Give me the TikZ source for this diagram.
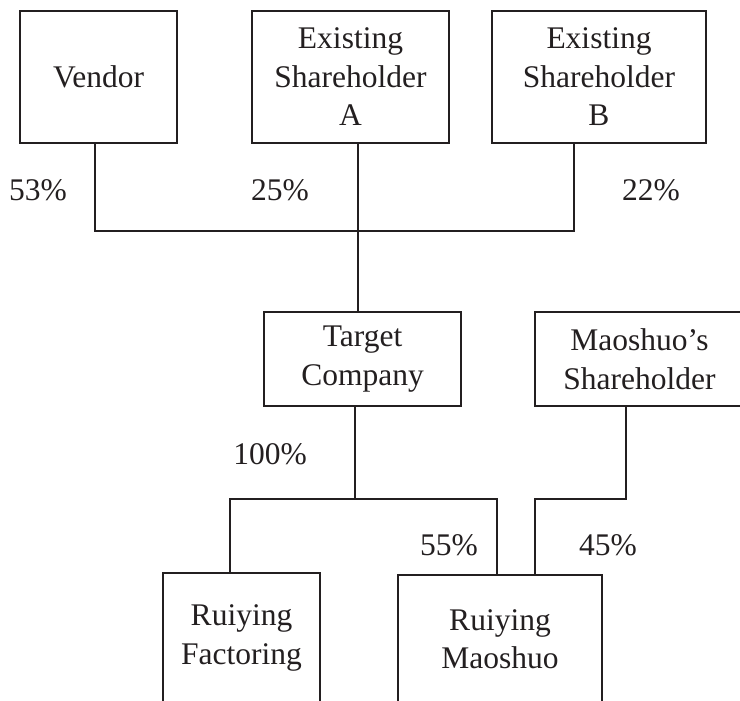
\documentclass[tikz,border=0pt]{standalone}
\usepackage{fontspec}
\setmainfont{Liberation Serif}
\definecolor{ink}{RGB}{35,31,32}
\begin{document}
\begin{tikzpicture}[x=1pt,y=-1pt,
  box/.style={draw=ink,line width=1.2pt,rectangle,inner sep=0pt,align=center,text=ink,
    font=\fontsize{31.5}{38.5}\selectfont},
  pct/.style={inner sep=0pt,text=ink,font=\fontsize{31.5}{38.5}\selectfont},
  conn/.style={draw=ink,line width=1.2pt}]
\useasboundingbox (0,0) rectangle (740,701);
\clip (0,0) rectangle (740,701);
% top row
\node[box,minimum width=157pt,minimum height=132pt] (vendor) at (98.5,77) {Vendor};
\node[box,minimum width=197pt,minimum height=132pt] (esa) at (350.5,77) {Existing\\Shareholder\\A};
\node[box,minimum width=214pt,minimum height=132pt] (esb) at (599,77) {Existing\\Shareholder\\B};
% middle row
\node[box,minimum width=197pt,minimum height=94pt] (target) at (362.5,359) {Target\\Company};
\node[box,minimum width=209pt,minimum height=94pt] (msh) at (639.5,359) {Maoshuo’s\\Shareholder};
% bottom row
\node[box,minimum width=157pt,minimum height=130pt] (rf) at (241.5,638) {Ruiying\\Factoring};
\node[box,minimum width=204pt,minimum height=128pt] (rm) at (500,639) {Ruiying\\Maoshuo};
% percentages
\node[pct] (p53) at (38,190) {53\%};
\node[pct] (p25) at (280,190) {25\%};
\node[pct] (p22) at (651,190) {22\%};
\node[pct] (p100) at (270,454) {100\%};
\node[pct] (p55) at (449,545) {55\%};
\node[pct] (p45) at (608,545) {45\%};
% junctions
\coordinate (j1) at (358,231);
\coordinate (j2) at (355,499);
\coordinate (j3) at (535,499);
% connectors
\draw[conn] ([xshift=-3.5pt]vendor.south) |- (j1);
\draw[conn] ([xshift=-25pt]esb.south) |- (j1);
\draw[conn] ([xshift=7.5pt]esa.south) -- ([xshift=-4.5pt]target.north);
\draw[conn] ([xshift=-7.5pt]target.south) -- (j2);
\draw[conn] ([xshift=-11.5pt]rf.north) |- (j2) -| ([xshift=-3pt]rm.north);
\draw[conn] ([xshift=-13.5pt]msh.south) |- (j3) -- ([xshift=35pt]rm.north);
\end{tikzpicture}
\end{document}
